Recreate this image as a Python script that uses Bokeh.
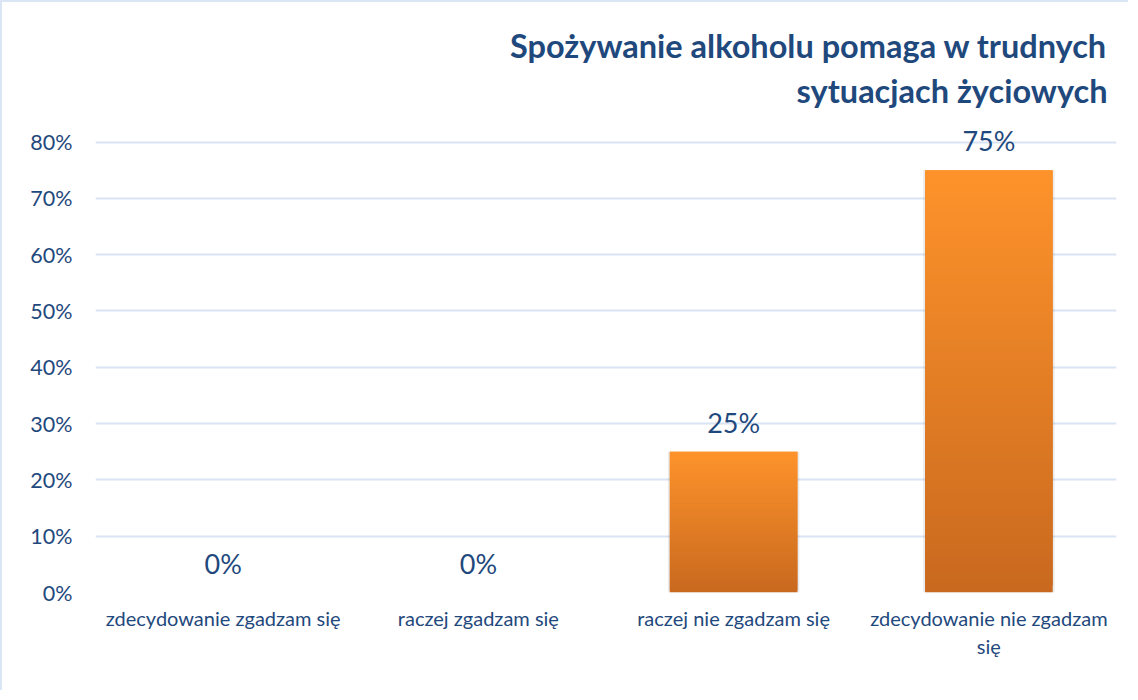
from bokeh.plotting import figure
from bokeh.models import ColumnDataSource, Title, Range1d, NumeralTickFormatter, FixedTicker
from bokeh.core.properties import value
from bokeh.embed import file_html
from bokeh.resources import INLINE

categories = ["zdecydowanie zgadzam się", "raczej zgadzam się", "raczej nie zgadzam się", "zdecydowanie nie zgadzam się"]
category_display = ["zdecydowanie zgadzam się", "raczej zgadzam się", "raczej nie zgadzam się", "zdecydowanie nie zgadzam\nsię"]
values = [0.0, 0.0, 0.25, 0.75]
labels = ["0%", "0%", "25%", "75%"]
yticks = [0, 0.1, 0.2, 0.3, 0.4, 0.5, 0.6, 0.7, 0.8]
title_lines = ["Spożywanie alkoholu pomaga w trudnych", "sytuacjach życiowych"]

FONT = "Lato"
DARK = "#1F497D"
GRID = "#D9E4F4"

xc = [i + 0.5 for i in range(len(categories))]

p = figure(x_range=Range1d(0, len(categories)), y_range=Range1d(0, 0.84), width=1128, height=690,
           output_backend="svg", toolbar_location=None,
           min_border_left=93, min_border_right=14, min_border_top=117, min_border_bottom=100)
p.outline_line_color = None
p.styles = {"border-left": "2px solid #DAE6F6", "border-top": "2px solid #DAE6F6"}

# gradient bars built as overlapping slices of each bar
n = 60
top_c = (254, 147, 43)
bot_c = (201, 105, 31)
xs, bots, tops, cols = [], [], [], []
for x, v in zip(xc, values):
    if v <= 0:
        continue
    for i in range(n):
        t = (i + 0.5) / n
        col = tuple(int(round(bot_c[k] + (top_c[k] - bot_c[k]) * t)) for k in range(3))
        xs.append(x)
        bots.append(v * i / n)
        tops.append(min(v, v * (i + 2) / n))
        cols.append("#%02x%02x%02x" % col)

# faint shadow
shadow = ColumnDataSource(dict(x=[x for x, v in zip(xc, values) if v > 0],
                               top=[v for v in values if v > 0]))
p.vbar(x="x", top="top", bottom=-0.004, width=0.515, source=shadow,
       fill_color="#000000", fill_alpha=0.08, line_color=None)

src = ColumnDataSource(dict(x=xs, bottom=bots, top=tops, color=cols))
p.vbar(x="x", bottom="bottom", top="top", width=0.5, source=src,
       fill_color="color", line_color=None)

lab = ColumnDataSource(dict(x=xc, y=values, text=labels))
p.text(x="x", y="y", text="text", source=lab, text_align="center", text_baseline="bottom",
       y_offset=-13, text_font=value(FONT), text_font_size="27px", text_color=DARK)

p.add_layout(Title(text=title_lines[1], align="right", text_font=FONT,
                   text_font_size="32.5px", text_font_style="bold", text_color=DARK,
                   text_line_height=0.75, offset=9, standoff=20), "above")
p.add_layout(Title(text=title_lines[0], align="right", text_font=FONT,
                   text_font_size="32.5px", text_font_style="bold", text_color=DARK,
                   text_line_height=0.75, offset=9, standoff=-13), "above")
p.title.visible = False

p.yaxis.ticker = FixedTicker(ticks=yticks)
p.yaxis.formatter = NumeralTickFormatter(format="0%")
p.xaxis.ticker = FixedTicker(ticks=xc)
p.xaxis.major_label_overrides = {x: t for x, t in zip(xc, category_display)}
for ax in (p.xaxis[0], p.yaxis[0]):
    ax.axis_line_color = None
    ax.major_tick_line_color = None
    ax.minor_tick_line_color = None
    ax.major_label_text_font = FONT
    ax.major_label_text_color = DARK
p.yaxis.major_label_text_font_size = "21.5px"
p.yaxis.major_label_standoff = 17
p.xaxis.major_label_text_font_size = "20px"
p.xaxis.major_label_standoff = 7

p.xgrid.grid_line_color = None
p.ygrid.grid_line_color = GRID
p.ygrid.grid_line_width = 2

open("out.html", "w").write(file_html(p, INLINE))
